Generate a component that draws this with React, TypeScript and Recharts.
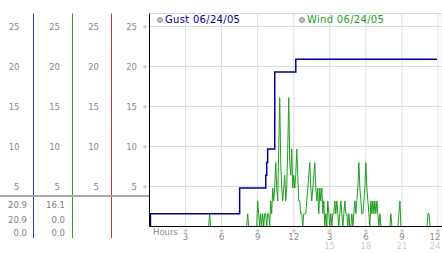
import { LineChart, Line, XAxis, YAxis, CartesianGrid, Legend } from "recharts";

// wind speed, 5-minute samples over 24 hours (12 per row = 1 hour)
const WIND = [
  0, 0, 0, 0, 0, 0, 0, 0, 0, 0, 0, 0,
  0, 0, 0, 0, 0, 0, 0, 0, 0, 0, 0, 0,
  0, 0, 0, 0, 0, 0, 0, 0, 0, 0, 0, 0,
  0, 0, 0, 0, 0, 0, 0, 0, 0, 0, 0, 0,
  0, 0, 0, 0, 0, 0, 0, 0, 0, 0, 0, 0,
  1.6, 0, 0, 0, 0, 0, 0, 0, 0, 0, 0, 0,
  0, 0, 0, 0, 0, 0, 0, 0, 0, 0, 0, 0,
  0, 0, 0, 0, 0, 0, 0, 0, 0, 0, 0, 0,
  0, 0, 1.6, 0, 0, 0, 0, 0, 0, 0, 0, 0,
  3.2, 1.6, 0, 1.6, 0, 1.6, 0, 1.6, 1.6, 0, 1.6, 1.6,
  0, 3.2, 1.6, 4.8, 3.2, 4.8, 8.0, 4.8, 3.2, 9.7, 16.1, 8.0,
  4.8, 3.2, 4.8, 6.4, 3.2, 4.8, 9.7, 16.1, 8.0, 6.4, 9.7, 4.8,
  6.4, 4.8, 6.4, 9.7, 6.4, 3.2, 3.2, 1.6, 1.6, 0, 1.6, 1.6,
  1.6, 3.2, 4.8, 6.4, 8.0, 4.8, 3.2, 4.8, 6.4, 8.0, 4.8, 3.2,
  4.8, 1.6, 4.8, 3.2, 4.8, 1.6, 3.2, 0, 1.6, 0, 3.2, 1.6,
  0, 1.6, 0, 1.6, 1.6, 3.2, 1.6, 3.2, 1.6, 0, 1.6, 3.2,
  1.6, 0, 1.6, 3.2, 1.6, 1.6, 0, 1.6, 0, 0, 1.6, 0,
  1.6, 3.2, 1.6, 3.2, 4.8, 8.0, 4.8, 3.2, 1.6, 1.6, 3.2, 4.8,
  8.0, 4.8, 3.2, 1.6, 0, 3.2, 1.6, 3.2, 1.6, 3.2, 1.6, 3.2,
  1.6, 0, 1.6, 0, 0, 0, 0, 0, 0, 0, 0, 0,
  0, 1.6, 0, 0, 0, 0, 0, 0, 0, 1.6, 3.2, 0,
  0, 0, 0, 0, 0, 0, 0, 0, 0, 0, 0, 0,
  0, 0, 0, 0, 0, 0, 0, 0, 0, 0, 0, 0,
  0, 0, 1.6, 1.6, 0, 0, 0, 0, 0, 0, 0, 0,
];

// running max gust, as step changes
const GUST_HOURS = [0, 0.08, 7.5, 9.67, 9.75, 9.83, 10.42, 12.17, 23.92];
const GUST_VALUES = [0, 1.6, 4.8, 6.4, 8.0, 9.7, 19.3, 20.9, 20.9];

const Y_TICKS = [5, 10, 15, 20, 25];
const X_TICKS = [3, 6, 9, 12, 15, 18, 21, 24];
const X_LABELS = ["3", "6", "9", "12", "3", "6", "9", "12"];
const X_SUBLABELS = ["", "", "", "", "15", "18", "21", "24"];

const GUST_STATS = ["20.9", "20.9", "0.0"];
const WIND_STATS = ["16.1", "0.0", "0.0"];

const GUST_NAME = "Gust 06/24/05";
const WIND_NAME = "Wind 06/24/05";

const windData = WIND.map((v, i) => ({ h: i / 12, wind: v }));
const gustData = GUST_HOURS.map((h, i) => ({ h, gust: GUST_VALUES[i] }));

const FONT = "'DejaVu Sans', Verdana, sans-serif";
const GUST_COLOR = "#000096";
const WIND_COLOR = "#1e9e1e";
const Y_MAX = 26.625;

const tickStyle = { fontSize: 8.5, fill: "#8a8a8a", fontFamily: FONT };

const MainYTick = ({ x, y, payload }: any) => (
  <g>
    <text x={x} y={y} textAnchor="end" dominantBaseline="central" style={tickStyle}>
      {payload.value}
    </text>
    <text x={x + 8} y={y} textAnchor="middle" dominantBaseline="central" fontSize={6} fill="#b0b0b0" fontFamily={FONT}>
      ※
    </text>
  </g>
);

const HourTick = ({ x, payload }: any) => {
  const i = X_TICKS.indexOf(payload.value);
  const dx = i === X_TICKS.length - 1 ? -3 : 0;
  return (
    <g>
      <text x={x} y={230} textAnchor="middle" dominantBaseline="central" fontSize={6} fill="#b0b0b0" fontFamily={FONT}>
        ※
      </text>
      <text x={x + dx} y={237} textAnchor="middle" dominantBaseline="central" style={tickStyle}>
        {X_LABELS[i]}
      </text>
      <text x={x + dx} y={245.5} textAnchor="middle" dominantBaseline="central" style={{ ...tickStyle, fill: "#cccccc" }}>
        {X_SUBLABELS[i]}
      </text>
    </g>
  );
};

const LegendContent = ({ payload }: any) => {
  const order = [GUST_NAME, WIND_NAME];
  const items = [...(payload || [])].sort((a, b) => order.indexOf(a.value) - order.indexOf(b.value));
  return (
    <div style={{ display: "flex", fontFamily: FONT, fontSize: 10, letterSpacing: 0.3 }}>
      {items.map((p: any) => (
        <div key={p.value} style={{ width: 142, display: "flex", alignItems: "center", color: p.color }}>
          <span
            style={{
              width: 4,
              height: 4,
              borderRadius: "50%",
              background: "#c0c0c0",
              border: "1px solid #909090",
              marginRight: 2,
            }}
          />
          {p.value}
        </div>
      ))}
    </div>
  );
};

const statText = (right: number, top: number, text: string) => (
  <div
    key={`${right}-${top}`}
    style={{
      position: "absolute",
      left: 0,
      width: right,
      top: top - 6,
      height: 12,
      lineHeight: "12px",
      textAlign: "right",
      fontFamily: FONT,
      fontSize: 8.5,
      color: "#808080",
    }}
  >
    {text}
  </div>
);

const STAT_ROWS = [205, 220, 233];

// axis ids sort innermost first: a = black (plot), b = red, c = green, d = blue
export default function App() {
  return (
    <div style={{ position: "absolute", left: 0, top: 0, width: 442, height: 253, background: "#fff", overflow: "hidden" }}>
      <LineChart width={442} height={253} margin={{ top: 13.5, right: 0, bottom: 0, left: 0 }}>
        <CartesianGrid yAxisId="a" stroke="#dcdcdc" strokeWidth={1} />
        <XAxis
          type="number"
          dataKey="h"
          domain={[0, 24.333]}
          ticks={X_TICKS}
          interval={0}
          allowDataOverflow
          height={26.5}
          axisLine={{ stroke: "#000" }}
          tickLine={false}
          tick={<HourTick />}
        />
        <YAxis
          yAxisId="a"
          type="number"
          domain={[0, Y_MAX]}
          ticks={Y_TICKS}
          allowDataOverflow
          width={38}
          tickLine={false}
          tickMargin={6.5}
          axisLine={{ stroke: "#000" }}
          tick={<MainYTick />}
        />
        <YAxis
          yAxisId="b"
          type="number"
          domain={[0, Y_MAX]}
          ticks={Y_TICKS}
          allowDataOverflow
          width={39}
          tickLine={false}
          tickMargin={6.5}
          axisLine={{ stroke: "#c03a3a" }}
          tick={tickStyle}
        />
        <YAxis
          yAxisId="c"
          type="number"
          domain={[0, Y_MAX]}
          ticks={Y_TICKS}
          allowDataOverflow
          width={39}
          tickLine={false}
          tickMargin={6.5}
          axisLine={{ stroke: "#2ea02e" }}
          tick={tickStyle}
        />
        <YAxis
          yAxisId="d"
          type="number"
          domain={[0, Y_MAX]}
          ticks={Y_TICKS}
          allowDataOverflow
          width={33.5}
          tickLine={false}
          tickMargin={8}
          axisLine={{ stroke: "#2a3f9a" }}
          tick={tickStyle}
        />
        <Legend
          layout="horizontal"
          verticalAlign="middle"
          align="center"
          content={<LegendContent />}
          wrapperStyle={{ top: 14, left: 157, width: 285, height: 12 }}
        />
        <Line
          yAxisId="a"
          data={windData}
          dataKey="wind"
          name={WIND_NAME}
          type="linear"
          stroke={WIND_COLOR}
          strokeWidth={1}
          dot={false}
          isAnimationActive={false}
        />
        <Line
          yAxisId="a"
          data={gustData}
          dataKey="gust"
          name={GUST_NAME}
          type="stepAfter"
          stroke={GUST_COLOR}
          strokeWidth={1.5}
          dot={false}
          isAnimationActive={false}
        />
      </LineChart>

      {/* separator under the axis columns */}
      <div style={{ position: "absolute", left: 0, top: 195, width: 149, height: 2, background: "#a8a8a8" }} />
      {/* axis lines continue down past the plot */}
      <div style={{ position: "absolute", left: 33, top: 226, width: 1, height: 12, background: "#2a3f9a" }} />
      <div style={{ position: "absolute", left: 72, top: 226, width: 1, height: 12, background: "#2ea02e" }} />
      <div style={{ position: "absolute", left: 111, top: 226, width: 1, height: 12, background: "#c03a3a" }} />

      {GUST_STATS.map((s, i) => statText(27, STAT_ROWS[i], s))}
      {WIND_STATS.map((s, i) => statText(65, STAT_ROWS[i], s))}

      <div
        style={{
          position: "absolute",
          left: 153,
          top: 226,
          height: 12,
          lineHeight: "12px",
          fontFamily: FONT,
          fontSize: 8.5,
          color: "#8a8a8a",
        }}
      >
        Hours
      </div>
    </div>
  );
}
